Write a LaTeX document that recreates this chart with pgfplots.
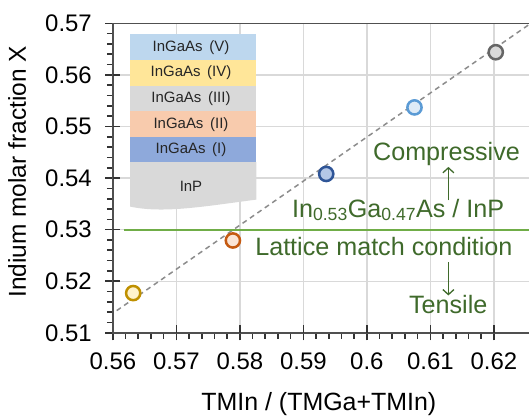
\documentclass[border=0pt]{standalone}
\usepackage{pgfplots}
\pgfplotsset{compat=1.18}
\usepackage{fontspec}
\setmainfont{Liberation Sans}
\usetikzlibrary{arrows.meta}
\definecolor{axcol}{HTML}{505050}
\definecolor{gridcol}{HTML}{D9D9D9}
\definecolor{txtgreen}{HTML}{3F6A2B}
\definecolor{linegreen}{HTML}{70AD47}
\definecolor{yedge}{HTML}{BF9000}\definecolor{yfill}{HTML}{FFF2CC}
\definecolor{oedge}{HTML}{C55A11}\definecolor{ofill}{HTML}{FBE5D6}
\definecolor{dbedge}{HTML}{2F5597}\definecolor{dbfill}{HTML}{B4C7E7}
\definecolor{lbedge}{HTML}{5B9BD5}\definecolor{lbfill}{HTML}{DEEBF7}
\definecolor{gedge}{HTML}{666666}\definecolor{gfill}{HTML}{D9D9D9}
\definecolor{lV}{HTML}{BDD7EE}
\definecolor{lIV}{HTML}{FFE699}
\definecolor{lIII}{HTML}{D9D9D9}
\definecolor{lII}{HTML}{F8CBAD}
\definecolor{lI}{HTML}{8EA9DB}
\definecolor{lInP}{HTML}{D9D9D9}
\begin{document}
\begin{tikzpicture}
\begin{axis}[
  scale only axis, width=416.3bp, height=309bp,
  xmin=0.56, xmax=0.62566, ymin=0.51, ymax=0.57,
  xtick={0.56,0.57,0.58,0.59,0.6,0.61,0.62},
  xticklabels={0.56,0.57,0.58,0.59,0.6,0.61,0.62},
  ytick={0.51,0.52,0.53,0.54,0.55,0.56,0.57},
  yticklabels={0.51,0.52,0.53,0.54,0.55,0.56,0.57},
  minor x tick num=4, minor y tick num=4,
  xtick pos=bottom, ytick pos=left,
  tick align=outside, major tick length=7.5bp, minor tick length=6bp,
  tick style={draw=black!80, line width=1.6bp},
  axis line style={draw=axcol, line width=1.5bp},
  grid=major, major grid style={draw=gridcol, line width=1.3bp},
  tick label style={font=\fontsize{24}{24}\selectfont, text=black},
  xticklabel style={yshift=-9bp},
  yticklabel style={xshift=-10bp},
  /pgf/number format/assume math mode=true,
  xlabel={TMIn / (TMGa+TMIn)},
  xlabel style={font=\fontsize{25}{25}\selectfont, at={(axis description cs:0.494,-0.2288)}, anchor=center},
  ylabel={Indium molar fraction X},
  ylabel style={font=\fontsize{24.5}{24.5}\selectfont, at={(axis description cs:-0.2299,0.52)}, anchor=center},
  clip=true,
]
\pgfplotsinvokeforeach{0.57,0.58,0.59,0.6,0.61,0.62}{
  \draw[black!80, line width=1.6bp] (axis cs:#1,0.51) -- ([yshift=7.5bp]axis cs:#1,0.51);
}
\pgfplotsinvokeforeach{0.52,0.53,0.54,0.55,0.56}{
  \draw[black!80, line width=1.6bp] (axis cs:0.56,#1) -- ([xshift=7.5bp]axis cs:0.56,#1);
}
\addplot[draw=gray!90, line width=1.5bp, dash pattern=on 5bp off 4bp] coordinates {(0.5606,0.5143) (0.6257,0.5699)};
\addplot[draw=linegreen, line width=2bp] coordinates {(0.5617,0.53) (0.62566,0.53)};
\addplot[only marks, mark=*, mark size=7.1bp, mark options={draw=yedge, fill=yfill, line width=2.5bp}] coordinates {(0.5632,0.5177)};
\addplot[only marks, mark=*, mark size=7.1bp, mark options={draw=oedge, fill=ofill, line width=2.5bp}] coordinates {(0.5789,0.5279)};
\addplot[only marks, mark=*, mark size=7.1bp, mark options={draw=dbedge, fill=dbfill, line width=2.5bp}] coordinates {(0.5936,0.5408)};
\addplot[only marks, mark=*, mark size=7.1bp, mark options={draw=lbedge, fill=lbfill, line width=2.5bp}] coordinates {(0.6075,0.5537)};
\addplot[only marks, mark=*, mark size=7.1bp, mark options={draw=gedge, fill=gfill, line width=2.5bp}] coordinates {(0.6203,0.5644)};
\node[anchor=base, text=txtgreen, font=\fontsize{25.2}{25.2}\selectfont, inner sep=0pt] at (axis cs:0.61254,0.54346) {Compressive};
\node[anchor=base, text=txtgreen, font=\fontsize{25.2}{25.2}\selectfont, inner sep=0pt] at (axis cs:0.60492,0.53245) {In\textsubscript{0.53}Ga\textsubscript{0.47}As / InP};
\node[anchor=base, text=txtgreen, font=\fontsize{25.2}{25.2}\selectfont, inner sep=0pt] at (axis cs:0.60268,0.52501) {Lattice match condition};
\node[anchor=base, text=txtgreen, font=\fontsize{25.2}{25.2}\selectfont, inner sep=0pt] at (axis cs:0.61281,0.51369) {Tensile};
\draw[txtgreen, line width=1.3bp, -{Straight Barb[length=5bp,width=11bp]}] (axis cs:0.61284,0.53569) -- (axis cs:0.61284,0.54216);
\draw[txtgreen, line width=1.3bp, -{Straight Barb[length=5bp,width=11bp]}] (axis cs:0.61284,0.52371) -- (axis cs:0.61284,0.51724);
\end{axis}
% layer stack inset (decoration)
\fill[lV] (17.3bp,272.3bp) rectangle (143.3bp,298bp);
\fill[lIV] (17.3bp,246.3bp) rectangle (143.3bp,272.3bp);
\fill[lIII] (17.3bp,221.3bp) rectangle (143.3bp,246.3bp);
\fill[lII] (17.3bp,195.3bp) rectangle (143.3bp,221.3bp);
\fill[lI] (17.3bp,170.3bp) rectangle (143.3bp,195.3bp);
\fill[lInP] (17.3bp,170.3bp) -- (17.3bp,126bp) .. controls (50bp,119bp) and (90bp,126bp) .. (143.3bp,133bp) -- (143.3bp,170.3bp) -- cycle;
\begin{scope}[every node/.style={font=\fontsize{15}{15}\selectfont, text=black!85, anchor=center}]
\node at (78bp,285.2bp) {InGaAs\, (V)};
\node at (78bp,259.3bp) {InGaAs\, (IV)};
\node at (78bp,233.8bp) {InGaAs\, (III)};
\node at (78bp,208.3bp) {InGaAs\, (II)};
\node at (78bp,182.8bp) {InGaAs\, (I)};
\node at (78bp,146.6bp) {InP};
\end{scope}
\pgfresetboundingbox
\path[use as bounding box] (-112.7bp,-82.7bp) rectangle (415.5bp,332.3bp);
\end{tikzpicture}
\end{document}
